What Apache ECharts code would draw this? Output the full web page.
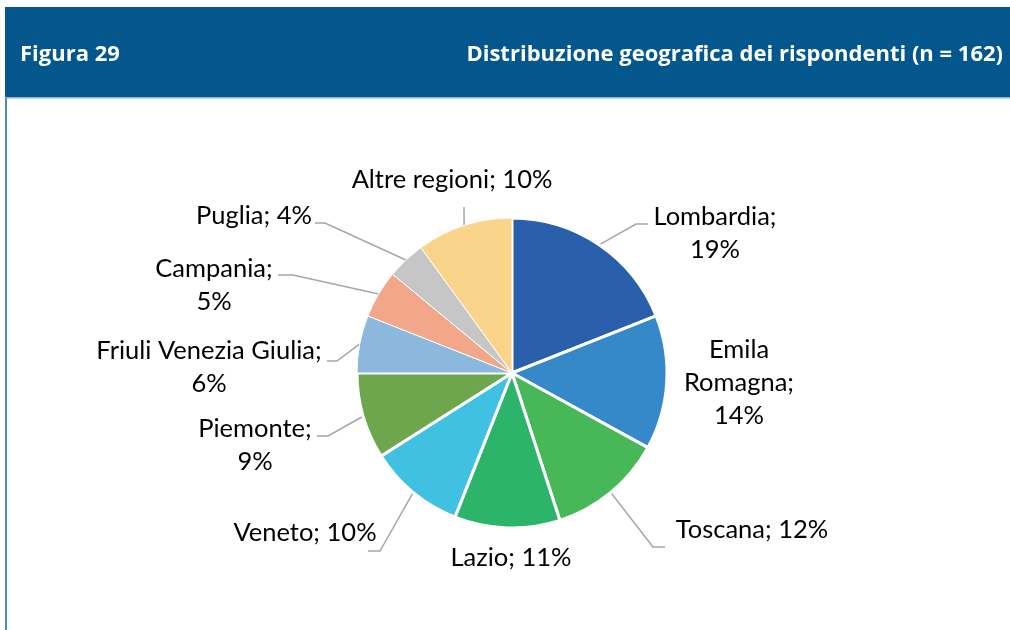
<!DOCTYPE html>
<html><head><meta charset="utf-8">
<script src="https://cdn.jsdelivr.net/npm/echarts@6/dist/echarts.min.js"></script>
<style>html,body{margin:0;padding:0;background:#fff}#c{width:1010px;height:630px}</style>
</head><body><div id="c"></div>
<script>
const categories = ['Lombardia','Emila Romagna','Toscana','Lazio','Veneto','Piemonte','Friuli Venezia Giulia','Campania','Puglia','Altre regioni'];
const values = [19,14,12,11,10,9,6,5,4,10];
const colors = ['#2a5fab','#3589c9','#47b758','#2db46b','#41c1e1','#6da64c','#8db8de','#f2a78a','#c6c6c6','#fad48a'];
const labelTexts = ['Lombardia;\n19%','Emila\nRomagna;\n14%','Toscana; 12%','Lazio; 11%','Veneto; 10%','Piemonte;\n9%','Friuli Venezia Giulia;\n6%','Campania;\n5%','Puglia; 4%','Altre regioni; 10%'];

// label layout (centre of label block) and leader-line elbow / end points
const labelCenters = [[715,233],[739,383],[752,530],[511,558],[305,533],[255,445],[209,367],[214,285],[254,216],[452,180]];
const lineElbows = [[636,224],null,[653,547],null,[380,551],[328,436],[337,361],[293,275],[325,223],[464,207]];
const lineEnds   = [[648,224],null,[665,547],null,[368,551],[317,436],[327,361],[278,275],[315,223],[464,207]];
const borderW = [3,3,3,3,3,3,1,1,1,1];

const chart = echarts.init(document.getElementById('c'), null, {renderer:'canvas'});
const data = categories.map((n,i)=>({
  name:n, value:values[i],
  itemStyle:{color:colors[i], borderColor:'#fff', borderWidth:borderW[i]},
  label:{formatter:labelTexts[i]},
  labelLine:{show:lineElbows[i]!==null}
}));
chart.setOption({
  animation:false,
  graphic:[
    {type:'rect', shape:{x:5,y:7,width:1005,height:90}, style:{fill:'#03578c'}},
    {type:'rect', shape:{x:5,y:97,width:1005,height:1.5}, style:{fill:'#8fb3d3'}},
    {type:'rect', shape:{x:5,y:98,width:2,height:532}, style:{fill:'#4f8cc0'}},
    {type:'text', x:20, y:55, style:{text:'Figura 29', fill:'#fff', font:'bold 22px "Open Sans"', verticalAlign:'middle'}},
    {type:'text', x:1003, y:55, style:{text:'Distribuzione geografica dei rispondenti (n = 162)', fill:'#fff', font:'bold 22px "Open Sans"', align:'right', verticalAlign:'middle'}}
  ],
  series:[{
    type:'pie',
    center:[512,373],
    radius:[0,155],
    startAngle:90,
    clockwise:true,
    data:data,
    label:{show:true, position:'outside', color:'#000', fontFamily:'Lato', fontSize:25.5, lineHeight:33},
    labelLine:{show:true, length:20, length2:15, lineStyle:{color:'#a6a6a6', width:1.5}},
    labelLayout:function(p){
      const i = p.dataIndex;
      const c = labelCenters[i];
      const out = {x:c[0], y:c[1], align:'center', verticalAlign:'middle'};
      if (lineElbows[i] && p.labelLinePoints) {
        const p0 = p.labelLinePoints[0];
        out.labelLinePoints = [p0, lineElbows[i], lineEnds[i]];
      }
      return out;
    }
  }]
});
</script></body></html>
